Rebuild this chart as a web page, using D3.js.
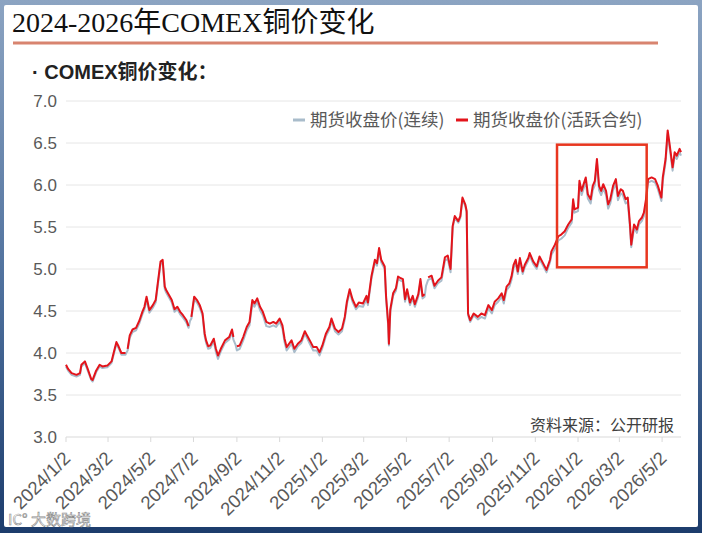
<!DOCTYPE html>
<html>
<head>
<meta charset="utf-8">
<script src="https://cdn.jsdelivr.net/npm/d3@7"></script>
<style>
  body { margin: 0; background: #fff; }
  svg { display: block; }
</style>
</head>
<body>
<div id="chart"></div>
<script>
// sample dates (roughly every few trading days)
var dates = [
  "2024-01-02","2024-01-05","2024-01-10","2024-01-17","2024-01-22","2024-01-24","2024-01-29",
  "2024-02-02","2024-02-07","2024-02-09","2024-02-14","2024-02-19","2024-02-23",
  "2024-03-01","2024-03-07","2024-03-10","2024-03-14","2024-03-17","2024-03-21","2024-03-27","2024-03-28","2024-03-30",
  "2024-04-02","2024-04-06","2024-04-11","2024-04-16","2024-04-20","2024-04-23","2024-04-26","2024-04-30",
  "2024-05-05","2024-05-09","2024-05-12","2024-05-16","2024-05-19","2024-05-22","2024-05-24","2024-05-28",
  "2024-06-01","2024-06-05","2024-06-09","2024-06-13","2024-06-17","2024-06-22","2024-06-25","2024-06-27","2024-06-29",
  "2024-07-03","2024-07-07","2024-07-11","2024-07-15","2024-07-18","2024-07-20","2024-07-23","2024-07-26","2024-07-31",
  "2024-08-03","2024-08-06","2024-08-10","2024-08-16","2024-08-22","2024-08-26","2024-08-28","2024-08-31",
  "2024-09-02","2024-09-06","2024-09-11","2024-09-16","2024-09-20","2024-09-24","2024-09-27",
  "2024-10-01","2024-10-05","2024-10-09","2024-10-14","2024-10-19","2024-10-24","2024-10-28",
  "2024-11-02","2024-11-06","2024-11-09","2024-11-12","2024-11-19","2024-11-23","2024-11-28",
  "2024-12-03","2024-12-08","2024-12-11","2024-12-15","2024-12-20","2024-12-25","2024-12-29",
  "2025-01-02","2025-01-07","2025-01-12","2025-01-15","2025-01-20","2025-01-25","2025-01-30",
  "2025-02-03","2025-02-06","2025-02-10","2025-02-14","2025-02-19","2025-02-23",
  "2025-03-01","2025-03-06","2025-03-08","2025-03-13","2025-03-18","2025-03-21","2025-03-24","2025-03-27",
  "2025-04-01","2025-04-03","2025-04-06","2025-04-07","2025-04-09","2025-04-13","2025-04-17","2025-04-20","2025-04-24","2025-04-27","2025-04-30",
  "2025-05-03","2025-05-07","2025-05-11","2025-05-14","2025-05-19","2025-05-22","2025-05-25","2025-05-28","2025-05-30",
  "2025-06-02","2025-06-07","2025-06-11","2025-06-16","2025-06-21","2025-06-26","2025-06-30",
  "2025-07-04","2025-07-07","2025-07-10","2025-07-15","2025-07-18","2025-07-21","2025-07-25","2025-07-27","2025-07-29",
  "2025-08-01","2025-08-06","2025-08-12","2025-08-17","2025-08-22","2025-08-27",
  "2025-09-01","2025-09-05","2025-09-10","2025-09-15","2025-09-18","2025-09-22","2025-09-26","2025-09-29",
  "2025-10-02","2025-10-05","2025-10-08","2025-10-11","2025-10-15","2025-10-18","2025-10-23","2025-10-25","2025-10-30",
  "2025-11-04","2025-11-08","2025-11-13","2025-11-18","2025-11-23","2025-11-25","2025-11-30",
  "2025-12-05","2025-12-09","2025-12-14","2025-12-19","2025-12-24","2025-12-26","2025-12-28",
  "2026-01-02","2026-01-04","2026-01-07","2026-01-10","2026-01-13","2026-01-16","2026-01-20","2026-01-23","2026-01-26","2026-01-29",
  "2026-02-01","2026-02-04","2026-02-07","2026-02-11","2026-02-14","2026-02-17","2026-02-21","2026-02-25","2026-02-28",
  "2026-03-04","2026-03-07","2026-03-11","2026-03-14","2026-03-17","2026-03-19","2026-03-23","2026-03-27","2026-03-30",
  "2026-04-03","2026-04-06","2026-04-09","2026-04-12","2026-04-17","2026-04-22","2026-04-26",
  "2026-05-01","2026-05-03","2026-05-07","2026-05-10","2026-05-13","2026-05-17","2026-05-20","2026-05-23","2026-05-27","2026-05-29"
];

// 期货收盘价(活跃合约) - red, null = gap at contract roll
var activeClose = [
  3.86,3.81,3.76,3.74,3.76,3.86,3.90,
  3.81,3.69,3.68,3.79,3.86,3.84,
  3.85,3.90,4.00,4.13,4.08,4.00,4.00,null,4.05,
  4.21,4.28,4.30,4.39,4.49,4.55,4.67,4.51,
  4.57,4.63,4.83,5.09,5.11,4.79,4.75,4.69,
  4.63,4.52,4.55,4.49,4.45,4.39,4.32,null,4.43,
  4.67,4.63,4.57,4.47,4.23,4.15,4.08,4.09,4.17,
  4.05,3.97,4.05,4.15,4.19,4.28,4.19,null,
  4.08,4.09,4.19,4.31,4.37,4.63,4.59,
  4.65,4.55,4.49,4.37,4.35,4.37,4.35,
  4.41,4.33,4.17,4.07,4.15,4.05,4.11,
  4.15,4.26,4.21,4.15,4.07,4.07,4.01,
  4.09,4.23,4.31,4.41,4.29,4.25,4.29,
  4.43,4.61,4.76,4.64,4.55,4.60,
  4.59,4.68,4.60,4.91,5.11,5.07,5.25,5.11,
  5.03,4.67,4.35,4.11,4.52,4.71,4.77,4.91,4.89,4.88,4.64,
  4.76,4.60,4.68,4.58,4.70,4.88,4.68,4.70,null,
  4.90,4.92,4.80,4.86,4.90,5.14,5.16,
  5.00,5.51,5.63,5.57,5.63,5.85,5.77,5.69,4.47,
  4.39,4.47,4.43,4.47,4.45,4.57,
  4.51,4.61,4.65,4.71,4.63,4.79,4.83,4.91,
  5.05,5.11,4.97,5.13,4.97,5.05,5.13,5.19,5.09,
  5.03,5.15,5.07,4.99,5.11,5.21,5.29,
  5.39,5.41,5.45,5.53,5.59,5.83,5.71,
  5.73,6.05,5.93,6.01,6.09,5.89,5.83,5.99,6.05,6.31,
  5.99,5.93,6.01,5.93,5.77,5.83,5.99,6.07,5.87,
  5.95,5.93,5.83,5.85,5.55,5.29,5.53,5.47,5.57,
  5.61,5.67,5.83,6.07,6.09,6.07,5.99,
  5.85,6.09,6.31,6.65,6.47,6.21,6.39,6.35,6.43,6.39
];

// 期货收盘价(连续) - grey
var continuousClose = [
  3.84,3.79,3.74,3.72,3.74,3.84,3.88,
  3.79,3.68,3.66,3.77,3.84,3.82,
  3.83,3.88,3.98,4.11,4.06,3.98,3.98,4.00,4.03,
  4.18,4.25,4.27,4.36,4.46,4.52,4.64,4.48,
  4.54,4.60,4.80,5.06,5.08,4.76,4.72,4.66,
  4.60,4.49,4.52,4.46,4.42,4.36,4.30,4.38,4.41,
  4.64,4.60,4.54,4.44,4.20,4.12,4.05,4.06,4.14,
  4.01,3.93,4.02,4.12,4.16,4.25,4.16,4.10,
  4.03,4.05,4.15,4.27,4.33,4.59,4.55,
  4.61,4.51,4.45,4.32,4.31,4.33,4.31,
  4.37,4.29,4.13,4.03,4.11,4.01,4.08,
  4.12,4.23,4.18,4.11,4.03,4.03,3.97,
  4.06,4.20,4.28,4.38,4.26,4.22,4.26,
  4.40,4.58,4.73,4.61,4.52,4.56,
  4.55,4.64,4.57,4.88,5.08,5.04,5.22,5.08,
  5.00,4.64,4.32,4.09,4.49,4.68,4.74,4.88,4.86,4.85,4.61,
  4.73,4.57,4.65,4.55,4.67,4.85,4.65,4.67,4.80,
  4.87,4.89,4.77,4.83,4.86,5.10,5.12,
  4.96,5.49,5.61,5.55,5.61,5.83,5.75,5.67,4.45,
  4.37,4.45,4.40,4.43,4.41,4.53,
  4.47,4.57,4.61,4.67,4.59,4.75,4.79,4.87,
  5.01,5.07,4.94,5.10,4.94,5.02,5.10,5.16,5.06,
  5.00,5.12,5.04,4.96,5.08,5.17,5.24,
  5.34,5.36,5.40,5.49,5.55,5.79,5.67,
  5.69,6.01,5.88,5.96,6.04,5.84,5.78,5.94,6.00,6.27,
  5.94,5.88,5.96,5.88,5.72,5.78,5.94,6.02,5.82,
  5.90,5.88,5.78,5.80,5.51,5.26,5.49,5.43,5.53,
  5.57,5.63,5.79,6.03,6.05,6.03,5.95,
  5.81,6.05,6.27,6.61,6.43,6.17,6.35,6.31,6.39,6.35
];

var tickLabels = ["2024/1/2","2024/3/2","2024/5/2","2024/7/2","2024/9/2","2024/11/2",
  "2025/1/2","2025/3/2","2025/5/2","2025/7/2","2025/9/2","2025/11/2",
  "2026/1/2","2026/3/2","2026/5/2"];
var yTicks = [3.0, 3.5, 4.0, 4.5, 5.0, 5.5, 6.0, 6.5, 7.0];
var seriesNames = ["期货收盘价(连续)", "期货收盘价(活跃合约)"];
var seriesColors = ["#a9bccb", "#e3141b"];

// highlighted window (red box)
var boxDates = ["2025-12-03", "2026-04-10"];
var boxValues = [6.48, 5.02];

(function () {

    var width = 702;
    var height = 533;
    var parse = d3.timeParse("%Y-%m-%d");
    var parseTick = d3.timeParse("%Y/%m/%d");
    var sans = "'Liberation Sans', Arial, 'Noto Sans CJK SC', sans-serif";
    var cjk = "'Noto Sans CJK SC', 'Liberation Sans', sans-serif";

    var svg = d3.select("#chart")
        .append("svg")
        .attr("width", width)
        .attr("height", height);

    // frame
    var grad = svg.append("defs").append("linearGradient")
        .attr("id", "frame").attr("x1", 0).attr("y1", 0).attr("x2", 0).attr("y2", 1);
    grad.append("stop").attr("offset", "0%").attr("stop-color", "#8ca4c2");
    grad.append("stop").attr("offset", "55%").attr("stop-color", "#4d6f9c");
    grad.append("stop").attr("offset", "100%").attr("stop-color", "#1c3c6c");

    svg.append("rect").attr("width", width).attr("height", height).attr("fill", "url(#frame)");
    svg.append("rect").attr("x", 4).attr("y", 5).attr("width", 694).attr("height", 522)
        .attr("rx", 2).attr("fill", "#fff");

    // title
    svg.append("text")
        .attr("x", 12).attr("y", 32)
        .style("font-family", "'Liberation Serif', 'Times New Roman', 'Noto Sans CJK SC', serif")
        .style("font-size", "28px")
        .attr("fill", "#111")
        .text("2024-2026年COMEX铜价变化");

    svg.append("line")
        .attr("x1", 13).attr("x2", 658).attr("y1", 43).attr("y2", 43)
        .attr("stroke", "#d8846f").attr("stroke-width", 3);

    svg.append("text")
        .attr("x", 32).attr("y", 79)
        .style("font-family", sans)
        .style("font-size", "20px")
        .style("font-weight", "bold")
        .attr("fill", "#222")
        .text("· COMEX铜价变化：");

    var x = d3.scaleTime()
        .domain([parse("2024-01-02"), parse("2026-05-29")])
        .range([66, 681]);

    var y = d3.scaleLinear()
        .domain([3, 7])
        .range([437, 101]);

    // grid
    svg.append("g").selectAll("line")
        .data(yTicks)
        .enter().append("line")
        .attr("x1", x.range()[0]).attr("x2", x.range()[1])
        .attr("y1", function (d) { return y(d); })
        .attr("y2", function (d) { return y(d); })
        .attr("stroke", function (d) { return d === 3 ? "#d9d9d9" : "#e6e6e6"; })
        .attr("stroke-width", 1);

    // y labels
    svg.append("g").selectAll("text")
        .data(yTicks)
        .enter().append("text")
        .attr("x", 57)
        .attr("y", function (d) { return y(d); })
        .attr("dy", "0.36em")
        .attr("text-anchor", "end")
        .style("font-family", sans)
        .style("font-size", "17px")
        .attr("fill", "#595959")
        .text(d3.format(".1f"));

    // x ticks + labels
    var tickDates = tickLabels.map(function (t) { return parseTick(t); });
    var xg = svg.append("g");
    xg.selectAll("line")
        .data(tickDates)
        .enter().append("line")
        .attr("x1", function (d) { return x(d); })
        .attr("x2", function (d) { return x(d); })
        .attr("y1", y(3)).attr("y2", y(3) + 5)
        .attr("stroke", "#d9d9d9");

    xg.selectAll("text")
        .data(tickLabels)
        .enter().append("text")
        .attr("transform", function (d, i) {
            return "translate(" + (x(tickDates[i]) + 1) + "," + (y(3) + 18) + ") rotate(-45)";
        })
        .attr("text-anchor", "end")
        .attr("dy", "0.35em")
        .style("font-family", sans)
        .style("font-size", "18.5px")
        .attr("fill", "#595959")
        .text(function (d) { return d; });

    // series
    var points = dates.map(function (d, i) {
        return { date: parse(d), active: activeClose[i], cont: continuousClose[i] };
    });

    var lineCont = d3.line()
        .x(function (d) { return x(d.date); })
        .y(function (d) { return y(d.cont); });

    var lineActive = d3.line()
        .defined(function (d) { return d.active !== null; })
        .x(function (d) { return x(d.date); })
        .y(function (d) { return y(d.active); });

    svg.append("path")
        .datum(points)
        .attr("d", lineCont)
        .attr("fill", "none")
        .attr("stroke", seriesColors[0])
        .attr("stroke-width", 2)
        .attr("stroke-linejoin", "round");

    svg.append("path")
        .datum(points)
        .attr("d", lineActive)
        .attr("fill", "none")
        .attr("stroke", seriesColors[1])
        .attr("stroke-width", 2)
        .attr("stroke-linejoin", "round");

    // legend
    var legendX = [293, 456];
    var legend = svg.append("g").selectAll("g")
        .data(seriesNames)
        .enter().append("g")
        .attr("transform", function (d, i) { return "translate(" + legendX[i] + ",120)"; });

    legend.append("line")
        .attr("x1", 0).attr("x2", 12)
        .attr("stroke", function (d, i) { return seriesColors[i]; })
        .attr("stroke-width", 3);

    legend.append("text")
        .attr("x", 17)
        .attr("dy", "0.36em")
        .style("font-family", cjk)
        .style("font-size", "17.5px")
        .attr("fill", "#595959")
        .text(function (d) { return d; });

    // highlight box
    svg.append("rect")
        .attr("x", x(parse(boxDates[0])))
        .attr("y", y(boxValues[0]))
        .attr("width", x(parse(boxDates[1])) - x(parse(boxDates[0])))
        .attr("height", y(boxValues[1]) - y(boxValues[0]))
        .attr("fill", "none")
        .attr("stroke", "#e8361f")
        .attr("stroke-width", 2.5);

    // source
    svg.append("text")
        .attr("x", 674).attr("y", 431)
        .attr("text-anchor", "end")
        .style("font-family", cjk)
        .style("font-size", "16px")
        .attr("fill", "#404040")
        .text("资料来源：公开研报");

    // watermark
    svg.append("text")
        .attr("x", 8).attr("y", 525)
        .style("font-family", cjk)
        .style("font-size", "15px")
        .attr("fill", "#ffffff")
        .attr("fill-opacity", 0.85)
        .attr("stroke", "#8a8a8a")
        .attr("stroke-width", 0.6)
        .text("IC° 大数跨境");

})();
</script>
</body>
</html>
